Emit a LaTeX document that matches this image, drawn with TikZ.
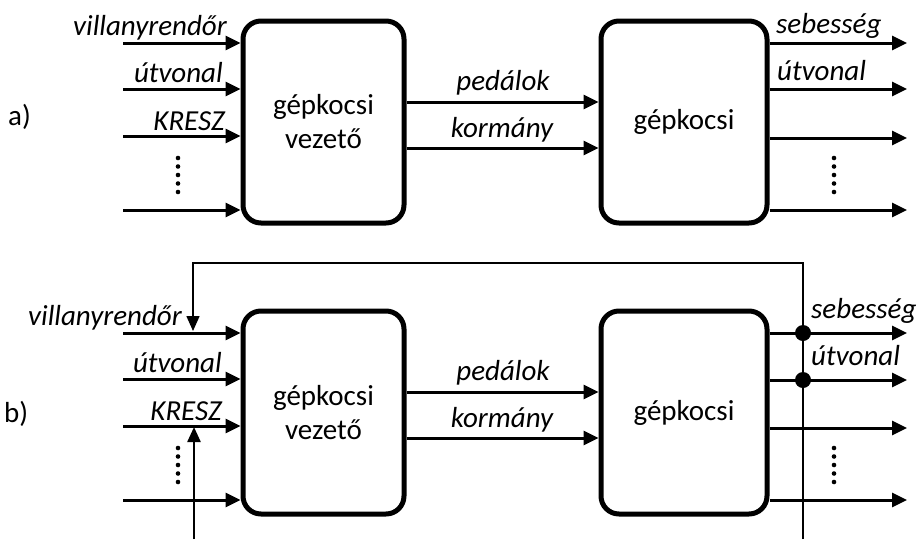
\documentclass[tikz,border=0pt]{standalone}
\usepackage{fontspec}
\setmainfont{Carlito}
\usetikzlibrary{arrows.meta}
\begin{document}
\begin{tikzpicture}[x=1pt,y=-1pt,
  font=\fontsize{29}{34}\selectfont,
  block/.style={draw,line width=5pt,rounded corners=18pt,align=center,
    minimum height=202pt,inner sep=0pt},
  sig/.style={line width=3pt,-{Triangle[length=15pt,width=14pt]}},
  fbarrow/.style={line width=1.6pt,-{Triangle[length=15pt,width=13pt]}},
  upflow/.style={line width=2.4pt,-{Triangle[length=15pt,width=13pt]}},
  lbl/.style={inner sep=0pt,font=\fontsize{29}{34}\selectfont\itshape},
  part/.style={inner sep=0pt},
  tap/.style={circle,fill,inner sep=0pt,minimum size=16pt},
  ellip/.style={circle,fill,inner sep=0pt,minimum size=4.6pt}]
\useasboundingbox (0,0) rectangle (918,539);

% ---------------- a) open loop ----------------
\node[part,anchor=base west] (labA) at (8,125) {a)};
\node[block,minimum width=161pt] (drvA) at (323.5,122) {gépkocsi\\vezető};
\node[block,minimum width=166pt] (carA) at (684,122) {gépkocsi};

\coordinate (inA1) at (123,43);
\coordinate (inA2) at (123,89);
\coordinate (inA3) at (123,136);
\coordinate (inA4) at (123,210);
\foreach \i in {1,...,4} \draw[sig] (inA\i) -- (inA\i -| drvA.west);

\node[lbl,anchor=base east] (tA1) at (227,35) {villanyrendőr};
\node[lbl,anchor=base east] (tA2) at (223,82) {útvonal};
\node[lbl,anchor=base east] (tA3) at (225,130) {KRESZ};
\foreach \k in {0,...,4} \node[ellip] (dotInA\k) at (178,158+8.5*\k) {};

\coordinate (pedA) at (0,102);
\coordinate (kormA) at (0,148);
\draw[sig] (drvA.east |- pedA) -- (carA.west |- pedA);
\draw[sig] (drvA.east |- kormA) -- (carA.west |- kormA);
\node[lbl,anchor=base] (tPedA) at (503,90) {pedálok};
\node[lbl,anchor=base] (tKormA) at (502,137) {kormány};

\coordinate (outA1) at (907,43);
\coordinate (outA2) at (907,89);
\coordinate (outA3) at (907,138);
\coordinate (outA4) at (907,210);
\foreach \i in {1,...,4} \draw[sig] (outA\i -| carA.east) -- (outA\i);
\node[lbl,anchor=base west] (sA1) at (776,33) {sebesség};
\node[lbl,anchor=base west] (sA2) at (777,80) {útvonal};
\foreach \k in {0,...,4} \node[ellip] (dotOutA\k) at (834,158+8.5*\k) {};

% ---------------- b) closed loop ----------------
\node[part,anchor=base west] (labB) at (4,422) {b)};
\node[block,minimum width=161pt,minimum height=203pt] (drvB) at (323.5,412.5) {gépkocsi\\vezető};
\node[block,minimum width=166pt,minimum height=203pt] (carB) at (684,412.5) {gépkocsi};

% feedback from the measured outputs back to the driver
\coordinate (fbL) at (193,263);
\coordinate (fbR) at (803,263);
\coordinate (fbBot) at (803,539);
\coordinate (fbTip) at (193,331);
\draw[fbarrow] (fbBot) -- (fbR) -- (fbL) -- (fbTip);
\coordinate (krBot) at (194,539);
\coordinate (krTip) at (194,427);
\draw[upflow] (krBot) -- (krTip);

\coordinate (inB1) at (123,333);
\coordinate (inB2) at (123,379);
\coordinate (inB3) at (123,426);
\coordinate (inB4) at (123,500);
\foreach \i in {1,...,4} \draw[sig] (inB\i) -- (inB\i -| drvB.west);

\node[lbl,anchor=base east] (tB1) at (182,325) {villanyrendőr};
\node[lbl,anchor=base east] (tB2) at (222,372) {útvonal};
\node[lbl,anchor=base east] (tB3) at (222,420) {KRESZ};
\foreach \k in {0,...,4} \node[ellip] (dotInB\k) at (178,448+8.5*\k) {};

\coordinate (pedB) at (0,392);
\coordinate (kormB) at (0,438);
\draw[sig] (drvB.east |- pedB) -- (carB.west |- pedB);
\draw[sig] (drvB.east |- kormB) -- (carB.west |- kormB);
\node[lbl,anchor=base] (tPedB) at (503,380) {pedálok};
\node[lbl,anchor=base] (tKormB) at (502,427) {kormány};

\coordinate (outB1) at (907,333);
\coordinate (outB2) at (907,380);
\coordinate (outB3) at (907,428);
\coordinate (outB4) at (907,500);
\foreach \i in {1,...,4} \draw[sig] (outB\i -| carB.east) -- (outB\i);
\node[tap] (tapB1) at (fbR |- outB1) {};
\node[tap] (tapB2) at (fbR |- outB2) {};
\node[lbl,anchor=base west] (sB1) at (811,318) {sebesség};
\node[lbl,anchor=base west] (sB2) at (811,365) {útvonal};
\foreach \k in {0,...,4} \node[ellip] (dotOutB\k) at (834,448+8.5*\k) {};
\end{tikzpicture}
\end{document}
